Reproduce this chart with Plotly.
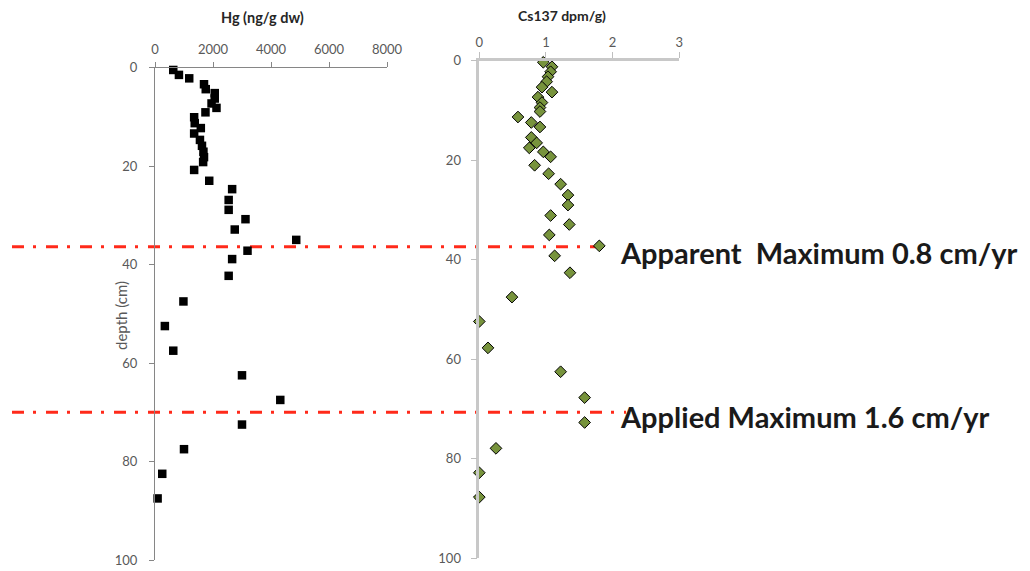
import plotly.graph_objects as go

# Hg profile: depth (cm) and concentration (ng/g dry weight)
hg_depth = [0.5, 1.5, 2.2, 3.4, 4.4, 5.2, 6.3, 7.3, 8.2, 9.1, 10.1, 11.3, 12.3, 13.4,
            14.7, 15.9, 17.1, 18.2, 19.2, 20.8, 23.0, 24.7, 26.9, 28.9, 30.8, 32.9,
            35.0, 37.2, 38.9, 42.3, 47.5, 52.5, 57.5, 62.5, 67.5, 72.5, 77.5, 82.5, 87.5]
hg_value = [630, 825, 1180, 1690, 1750, 2060, 2060, 1950, 2120, 1740, 1350, 1370, 1580, 1350,
            1550, 1620, 1670, 1690, 1660, 1350, 1870, 2660, 2540, 2540, 3120, 2750,
            4870, 3190, 2660, 2540, 980, 340, 630, 3000, 4320, 3000, 1000, 250, 90]

# Cs-137 profile: depth (cm) and activity (dpm/g)
cs_depth = [0.3, 1.2, 2.2, 3.2, 4.2, 5.3, 6.3, 7.3, 8.4, 9.4, 10.2, 11.3, 12.4, 13.3,
            15.4, 16.5, 17.5, 18.3, 19.3, 21.0, 22.7, 24.8, 27.0, 29.0, 31.1, 32.9,
            35.0, 37.2, 39.2, 42.6, 47.5, 52.4, 57.7, 62.5, 67.7, 72.7, 77.9, 82.8, 87.7]
cs_value = [0.96, 1.09, 1.07, 1.03, 1.01, 0.94, 1.09, 0.88, 0.94, 0.91, 0.91, 0.58, 0.78, 0.91,
            0.78, 0.86, 0.75, 0.96, 1.07, 0.83, 1.04, 1.22, 1.33, 1.33, 1.07, 1.35,
            1.05, 1.80, 1.13, 1.36, 0.49, 0.0, 0.13, 1.22, 1.58, 1.58, 0.25, 0.0, 0.0]

# Sedimentation-rate horizons (depth, cm) and their labels
rate_depths = [36.4, 70.0]
rate_labels = ["Apparent  Maximum 0.8 cm/yr", "Applied Maximum 1.6 cm/yr"]

hg_ticks = [0, 2000, 4000, 6000, 8000]
cs_ticks = [0, 1, 2, 3]
depth_ticks = [0, 20, 40, 60, 80, 100]

W, H = 1030, 571
FONT = "Lato"
TICK_COLOR = "#595959"


def px_x(v):
    return v / W


def px_y(v):
    return 1 - v / H


fig = go.Figure()

fig.add_trace(go.Scatter(
    x=hg_value, y=hg_depth, mode="markers", xaxis="x", yaxis="y",
    marker=dict(symbol="square", size=8.5, color="black", line=dict(width=0)),
    cliponaxis=False, showlegend=False,
))
fig.add_trace(go.Scatter(
    x=cs_value, y=cs_depth, mode="markers", xaxis="x2", yaxis="y2",
    marker=dict(symbol="diamond", size=9, color="#77933C",
                line=dict(width=1, color="black")),
    cliponaxis=False, showlegend=False,
))

# Dash-dot horizons spanning both panels, positioned on the depth scale
line_ends = [603, 626]
for d, x_end in zip(rate_depths, line_ends):
    fig.add_shape(type="line", xref="paper", yref="y",
                  x0=px_x(12), x1=px_x(x_end), y0=d, y1=d,
                  line=dict(color="#FF2A1A", width=3, dash="12px,9px,3px,10px"),
                  layer="below")

label_y = [252, 416.5]
for txt, y in zip(rate_labels, label_y):
    fig.add_annotation(text=f"<b>{txt}</b>", xref="paper", yref="paper",
                       x=px_x(618), y=px_y(y), xanchor="left", yanchor="middle",
                       showarrow=False, font=dict(family=FONT, size=29, color="#1a1a1a"))

# Panel titles
fig.add_annotation(text="<b>Hg (ng/g dw)</b>", xref="paper", yref="paper",
                   x=px_x(262), y=px_y(18), xanchor="center", yanchor="middle",
                   showarrow=False, font=dict(family=FONT, size=14.5, color="#262626"))
fig.add_annotation(text="<b>Cs137 dpm/g)</b>", xref="paper", yref="paper",
                   x=px_x(562), y=px_y(15), xanchor="center", yanchor="middle",
                   showarrow=False, font=dict(family=FONT, size=14, color="#262626"))
fig.add_annotation(text="depth (cm)", xref="paper", yref="paper",
                   x=px_x(121), y=px_y(316), xanchor="center", yanchor="middle",
                   textangle=-90, showarrow=False,
                   font=dict(family=FONT, size=15, color=TICK_COLOR))

axis_common = dict(showgrid=False, zeroline=False, showline=True, ticks="outside",
                   automargin=False,
                   tickfont=dict(family=FONT, size=13, color=TICK_COLOR))

fig.update_layout(
    width=W, height=H, margin=dict(l=0, r=0, t=0, b=0),
    paper_bgcolor="white", plot_bgcolor="white",
    xaxis=dict(domain=[px_x(155), px_x(387)], range=[0, 8000], side="top",
               anchor="y", tickvals=hg_ticks, linecolor="#868686", linewidth=1,
               tickcolor="#868686", ticklen=5, ticklabelstandoff=2, **axis_common),
    yaxis=dict(domain=[px_y(560), px_y(67.5)], range=[100, 0], anchor="x",
               tickvals=depth_ticks, linecolor="#868686", linewidth=1,
               tickcolor="#868686", ticklen=5, ticklabelstandoff=9, **axis_common),
    xaxis2=dict(domain=[px_x(479.3), px_x(679.3)], range=[0, 3], side="top",
                anchor="y2", tickvals=cs_ticks, linecolor="#C8C8C8", linewidth=2.5,
                tickcolor="#BFBFBF", ticklen=6, ticklabelstandoff=0, **axis_common),
    yaxis2=dict(domain=[px_y(558.3), px_y(60.8)], range=[100, 0], anchor="x2",
                tickvals=depth_ticks, linecolor="#C8C8C8", linewidth=2.5,
                tickcolor="#BFBFBF", ticklen=6, ticklabelstandoff=7, **axis_common),
)

fig.write_html("out.html")
